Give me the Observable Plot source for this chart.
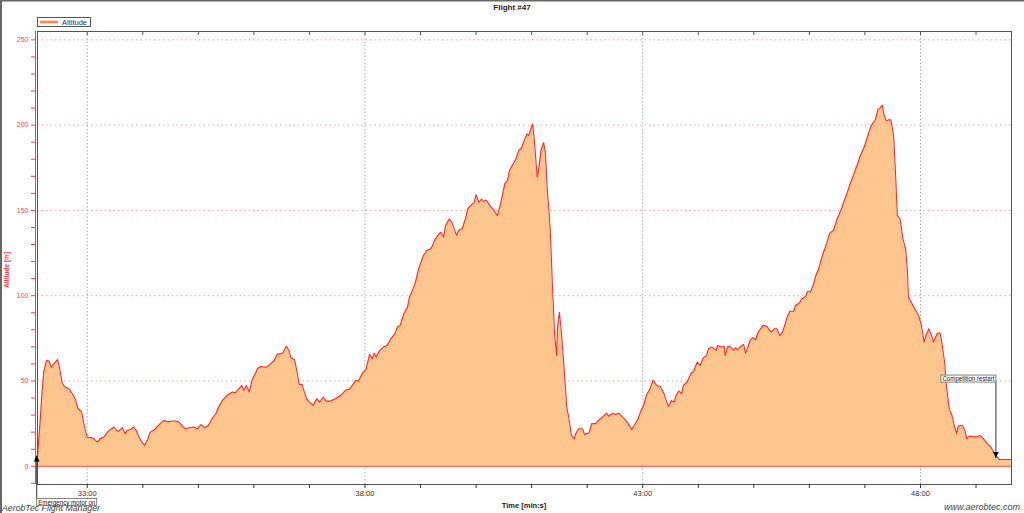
<!DOCTYPE html>
<html><head><meta charset="utf-8">
<script src="https://cdn.jsdelivr.net/npm/d3@7"></script>
<script src="https://cdn.jsdelivr.net/npm/@observablehq/plot@0.6"></script>
<style>
html,body{margin:0;padding:0;background:#fff;}
#chart{width:1024px;height:513px;overflow:hidden;}
svg{display:block;}
</style></head><body><div id="chart"></div>
<script>
// ---- data (time in seconds of flight clock, altitude in m) ----
const times = [1926,1929,1931,1933,1936,1939,1941,1944,1948,1950,1953,1955,1958,1961,1964,1967,1970,1974,1976,1978,
1980,1984,1987,1991,1994,1998,2002,2005,2009,2012,2014,2018,2021,2023,2027,2030,2033,2036,2039,2042,
2045,2048,2053,2057,2063,2067,2072,2075,2079,2083,2086,2090,2095,2099,2103,2107,2111,2115,2119,2122,
2126,2131,2137,2140,2144,2147,2149,2152,2155,2158,2164,2167,2173,2176,2180,2182,2185,2191,2195,2198,
2200,2204,2207,2209,2212,2214,2217,2220,2224,2228,2231,2235,2238,2243,2248,2254,2259,2264,2270,2273,
2277,2281,2283,2285,2288,2290,2292,2296,2300,2304,2308,2312,2315,2318,2322,2326,2328,2332,2335,2338,
2343,2347,2351,2353,2356,2360,2362,2365,2367,2371,2374,2379,2381,2385,2389,2391,2394,2398,2400,2403,
2406,2408,2411,2415,2419,2423,2426,2428,2431,2434,2436,2439,2443,2446,2449,2452,2455,2457,2459,2461,
2463,2466,2468,2470,2473,2475,2477,2480,2481,2483,2485,2487,2488,2490,2492,2495,2498,2500,2503,2506,
2508,2511,2515,2517,2522,2525,2529,2533,2537,2541,2543,2547,2551,2554,2560,2563,2568,2571,2575,2578,
2581,2584,2588,2591,2595,2599,2603,2606,2608,2611,2614,2616,2619,2622,2624,2628,2632,2635,2639,2642,
2645,2649,2651,2655,2659,2661,2665,2668,2669,2672,2675,2678,2680,2683,2686,2689,2691,2693,2696,2699,
2702,2704,2706,2710,2714,2716,2719,2722,2725,2728,2731,2733,2736,2739,2743,2745,2749,2752,2756,2758,
2761,2764,2767,2770,2774,2776,2779,2782,2786,2790,2794,2797,2801,2804,2808,2812,2815,2819,2822,2826,
2829,2831,2834,2836,2839,2840,2843,2846,2848,2851,2853,2855,2858,2861,2864,2866,2867,2871,2875,2878,
2881,2884,2886,2889,2892,2894,2898,2901,2903,2906,2908,2911,2914,2916,2919,2921,2925,2928,2930,2933,
2938,2941,2944,2948,2952,2956,2959,2962,2965,2968,2978];
const altitudes = [4,25,42,55,62,61.7,58,60,62.5,58,49,47,46,45,42.5,39.6,34,31.8,26,21,
17,16.8,16.2,14.2,16.2,17,20,21.5,23,21,20.5,22.6,19,21,21.5,23,21,17,14.2,12.3,
15.2,20,21.5,24,27,26,26.5,26.5,26,23.4,22,22.6,23,22,24.4,22.6,24,28,30.8,34.7,
38.6,41.6,43.5,43,45.5,47.4,44.5,47.4,43.5,50.4,57.2,58.5,58,59,61,62,65.6,66.3,70.4,67.9,
63.6,62.5,54.3,48,48,44.5,39.6,37.6,35.7,39.6,37.6,40.6,38.2,38.2,39.6,41.6,44.5,45.5,50.4,49.8,
54.3,56.6,61,65.6,63,66.3,64,67.9,69.9,70.8,74.7,77.3,81.6,82.6,89.4,93.3,99.1,104,108.9,115.7,
123.5,126.5,127.5,129.4,133.3,136.2,137.2,134.3,141,145,143,135.2,138.2,139.2,146,150.9,152.8,154.7,159.2,154.7,
156.7,155.3,156.1,152.8,150.3,147,152.8,157.7,165.5,167.4,173.3,176.2,180.1,185,186.6,190.9,194.8,193.8,197.7,200.6,
190.9,169.4,175.2,185,189.9,183,161.6,140.1,126.5,99.1,75.7,65,81.6,90.3,79.6,58.1,34.7,28.9,18.1,16.2,
19.5,22,22,18.7,19.5,25,25,27.3,28.9,31.2,29.3,30.9,30.4,31.2,27.9,26,21.5,24,27.9,32.3,
35.7,41.6,45.5,50.4,47.4,46.8,42.6,37.6,35.1,38.6,37.6,41.6,44.1,42.6,47.4,49.4,54.3,55.8,61.1,59.1,
63.1,65,68.9,69.9,67.9,70.8,69.9,70.3,65,70.3,69.9,67.9,69.5,68.3,70.3,71.4,66.3,68.9,73.8,75.4,
74.2,77.7,79.6,82.6,82,80.6,78.6,80.6,80.6,76.7,78.6,82,87.4,90.9,90.9,94.3,95.6,98.2,99.5,102.6,
102,106,111.8,115.7,123.5,126.5,131.3,136.7,138.2,145,149.9,154.7,160.6,165.5,171.3,177.2,182.1,186.9,191.8,198.6,
201.5,202.6,209,209.8,211.7,207.4,202.6,203.1,203.1,193.8,172.3,146.9,145,133.3,127.5,113.8,99.1,95.2,91.3,88.4,
82.6,72.8,76.7,80.6,76.7,72.8,77.7,78.3,72.8,61.1,47.4,33.8,29.9,25,19.1,23.6,24,21.1,16.2,17.7,
17.2,17.2,18.1,16.2,13.3,11.3,8.4,6,4,4,4];

const yLabelTicks = [0, 50, 100, 150, 200, 250];
const xLabelTicks = [1980, 2280, 2580, 2880];          // 33:00, 38:00, 43:00, 48:00
const annotationTimes = [1926, 2962];
const annotationAlts = [6, 4.5];
const annotationLabels = ["Emergency motor on", "Competition restart"];
const chartTitle = "Flight #47";
const seriesName = "Altitude";
const xTitle = "Time [min:s]";
const yTitle = "Altitude [m]";
const footerLeft = "AerobTec Flight Manager";
const footerRight = "www.aerobtec.com";

// ---- build ----
const data = times.map((t, i) => ({t, alt: altitudes[i]}));
const fmt = s => `${Math.floor(s / 60)}:${String(Math.round(s % 60)).padStart(2, "0")}`;
const minuteTicks = d3.range(1980, 2978, 60);
const yMinor = d3.range(-10, 251, 10);
const RED = "#ff3b3b";
const FONT = "'Liberation Sans', Arial, sans-serif";

const chart = Plot.plot({
  width: 1024, height: 513,
  marginTop: 31, marginBottom: 29, marginLeft: 37, marginRight: 13,
  style: {fontFamily: FONT, background: "#fff", overflow: "visible"},
  x: {type: "linear", domain: [1926.3, 2978.3]},
  y: {domain: [-10.7, 254.9]},
  marks: [
    Plot.gridY(yLabelTicks.filter(d => d > 0), {stroke: "#ff9a9a", strokeOpacity: 1, strokeDasharray: "1.5,3"}),
    Plot.gridX(xLabelTicks, {stroke: "#a8a8a8", strokeOpacity: 1, strokeDasharray: "1.5,2"}),
    Plot.areaY(data, {x: "t", y: "alt", fill: "#fec68f"}),
    Plot.ruleY([0], {stroke: RED, strokeWidth: 1}),
    Plot.lineY(data, {x: "t", y: "alt", stroke: "#ff2b2b", strokeWidth: 1.1}),
    Plot.frame({stroke: "#555"}),
    Plot.ruleX([1926.3], {dx: -2, stroke: RED}),
    Plot.axisY(yMinor, {tickSize: 4, dx: -2, tickPadding: 3, color: RED, fontSize: 7,
      tickFormat: d => (d % 50 === 0 && d >= 0) ? String(d) : "", label: null}),
    Plot.axisX(minuteTicks, {tickSize: 4, tickPadding: 2, color: "#333", fontSize: 7.5,
      tickFormat: d => xLabelTicks.includes(d) ? fmt(d) : "", label: null}),
    Plot.axisX(minuteTicks, {anchor: "top", tickSize: 3, dy: 3, color: "#555",
      tickFormat: () => "", label: null})
  ]
});
document.getElementById("chart").appendChild(chart);

// ---- overlays using the chart's scales ----
const svg = d3.select(chart);
const X = chart.scale("x"), Y = chart.scale("y");
const g = svg.append("g").attr("font-family", FONT).attr("text-anchor", "start");

// outer border (left & top)
g.append("line").attr("x1", 1).attr("x2", 1).attr("y1", 0).attr("y2", 513).attr("stroke", "#666").attr("stroke-width", 2);
g.append("line").attr("x1", 0).attr("x2", 1024).attr("y1", 0.75).attr("y2", 0.75).attr("stroke", "#666").attr("stroke-width", 1.5);

// title
g.append("text").attr("x", 512).attr("y", 9.5).attr("text-anchor", "middle")
  .attr("font-size", 8).attr("font-weight", "bold").attr("fill", "#222").text(chartTitle);

// legend
g.append("rect").attr("x", 37.5).attr("y", 17.5).attr("width", 53).attr("height", 9)
  .attr("fill", "#fff").attr("stroke", "#555");
g.append("line").attr("x1", 40).attr("x2", 58).attr("y1", 22).attr("y2", 22)
  .attr("stroke", "#ffb380").attr("stroke-width", 3);
g.append("line").attr("x1", 40).attr("x2", 58).attr("y1", 22).attr("y2", 22)
  .attr("stroke", "#ff6a2a").attr("stroke-width", 1.2);
g.append("text").attr("x", 62).attr("y", 25).attr("font-size", 7.5).attr("fill", "#333").text(seriesName);

// axis titles
g.append("text").attr("x", 524).attr("y", 507.5).attr("text-anchor", "middle")
  .attr("font-size", 7.5).attr("font-weight", "bold").attr("fill", "#222").text(xTitle);
g.append("text").attr("transform", "translate(9,270) rotate(-90)").attr("text-anchor", "middle")
  .attr("font-size", 6.5).attr("font-weight", "bold").attr("fill", RED).text(yTitle);

// footers
g.append("text").attr("x", 2).attr("y", 511).attr("font-size", 9.5).attr("font-style", "italic")
  .attr("fill", "#444").attr("textLength", 98).attr("lengthAdjust", "spacingAndGlyphs").text(footerLeft);
g.append("text").attr("x", 1020).attr("y", 510).attr("text-anchor", "end").attr("font-size", 9)
  .attr("font-style", "italic").attr("fill", "#444").text(footerRight);

// annotations
annotationTimes.forEach((t, i) => {
  const px = X.apply(t), py = Y.apply(annotationAlts[i]);
  const up = i === 0;
  const lineEnd = up ? py + 43 : py - 76;
  g.append("line").attr("x1", px).attr("x2", px).attr("y1", py).attr("y2", lineEnd)
    .attr("stroke", "#333").attr("stroke-width", 1);
  const tri = up
    ? `M${px},${py} L${px - 2.8},${py + 6} L${px + 2.8},${py + 6} Z`
    : `M${px},${py} L${px - 2.8},${py - 6} L${px + 2.8},${py - 6} Z`;
  g.append("path").attr("d", tri).attr("fill", "#000");
  const bw = up ? 60 : 55, bh = 7;
  const bx = up ? px : px - bw;
  const by = up ? lineEnd : lineEnd - bh;
  g.append("rect").attr("x", bx).attr("y", by).attr("width", bw).attr("height", bh)
    .attr("fill", "#fff").attr("stroke", "#666").attr("stroke-width", 0.8);
  g.append("text").attr("x", bx + 1.5).attr("y", by + 6).attr("font-size", 6.3).attr("fill", "#222")
    .attr("textLength", bw - 3).attr("lengthAdjust", "spacingAndGlyphs").text(annotationLabels[i]);
});
</script></body></html>
